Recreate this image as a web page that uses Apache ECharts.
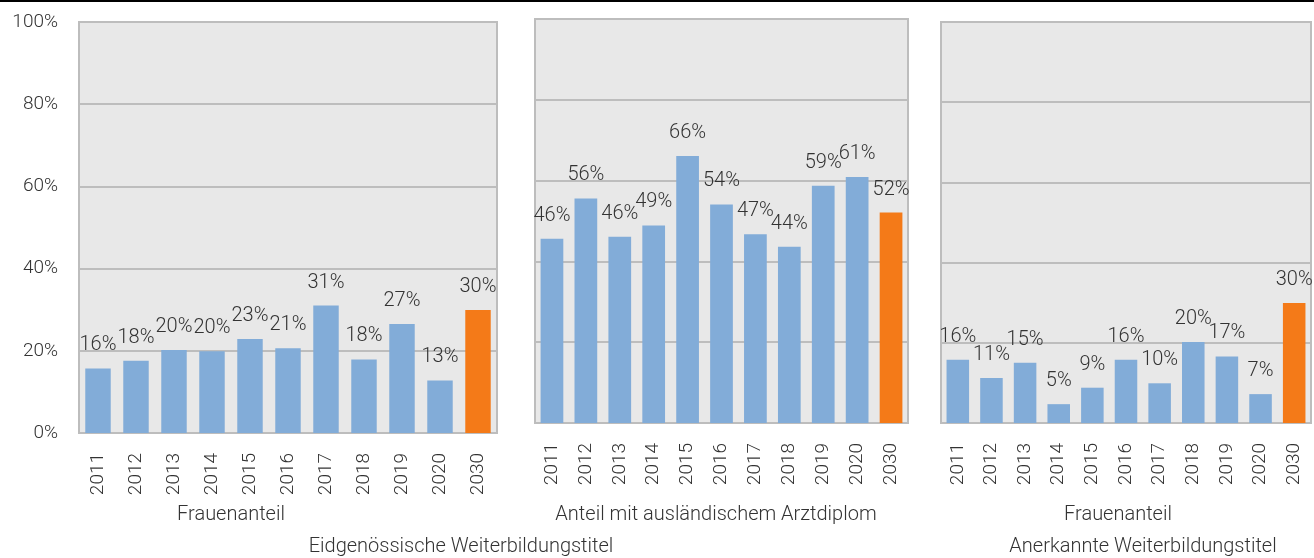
<!DOCTYPE html>
<html>
<head>
<meta charset="utf-8">
<script src="https://cdn.jsdelivr.net/npm/echarts@6/dist/echarts.min.js"></script>
<style>
  html, body { margin: 0; padding: 0; background: #ffffff; }
  #chart { width: 1314px; height: 558px; }
</style>
</head>
<body>
<div id="chart"></div>
<script>
// Years shown on every panel
const years = ['2011', '2012', '2013', '2014', '2015', '2016', '2017', '2018', '2019', '2020', '2030'];

// Eidgenössische Weiterbildungstitel – Frauenanteil (%)
const eidgFrauen = [15.7, 17.6, 20.2, 19.9, 22.9, 20.6, 31.0, 17.9, 26.5, 12.8, 29.9];
// Eidgenössische Weiterbildungstitel – Anteil mit ausländischem Arztdiplom (%)
const eidgAusland = [45.6, 55.6, 46.1, 48.9, 66.1, 54.1, 46.7, 43.6, 58.7, 60.9, 52.1];
// Anerkannte Weiterbildungstitel – Frauenanteil (%)
const anerkFrauen = [15.8, 11.2, 15.0, 4.7, 8.8, 15.8, 9.9, 20.2, 16.6, 7.2, 29.9];

// Value-axis ticks
const yTicks = [0, 20, 40, 60, 80, 100];

const panelTitles = ['Frauenanteil', 'Anteil mit ausländischem Arztdiplom', 'Frauenanteil'];
const groupTitles = ['Eidgenössische Weiterbildungstitel', 'Anerkannte Weiterbildungstitel'];

const BLUE = '#82acd8';
const ORANGE = '#f47a18';
const TEXT = '#333333';
const FONT = 'Roboto';
const FONT_SIZE = 20;
const projectionYear = '2030';

const chart = echarts.init(document.getElementById('chart'), null, { renderer: 'canvas' });

const grids = [
  { left: 79, top: 22, width: 418, height: 411 },
  { left: 535, top: 19, width: 373, height: 404 },
  { left: 941, top: 22, width: 370, height: 401 }
].map(g => Object.assign({
  show: true,
  backgroundColor: '#e8e8e8',
  borderColor: '#bdbdbd',
  borderWidth: 2,
  containLabel: false
}, g));

const xAxes = grids.map((g, i) => ({
  type: 'category',
  gridIndex: i,
  data: years,
  axisLine: { show: false },
  axisTick: { show: false },
  axisLabel: {
    rotate: 90,
    margin: 20,
    fontFamily: FONT,
    fontWeight: 300,
    fontSize: 19,
    color: TEXT
  }
}));

const yAxes = grids.map((g, i) => ({
  type: 'value',
  gridIndex: i,
  min: yTicks[0],
  max: yTicks[yTicks.length - 1],
  interval: yTicks[1] - yTicks[0],
  axisLine: { show: false },
  axisTick: { show: false },
  splitLine: { show: true, lineStyle: { color: '#bdbdbd', width: 2 } },
  axisLabel: {
    show: i === 0,
    margin: 21,
    fontFamily: FONT,
    fontWeight: 300,
    fontSize: 19,
    color: TEXT,
    formatter: v => v + '%'
  }
}));

function barSeries(values, idx) {
  return {
    type: 'bar',
    xAxisIndex: idx,
    yAxisIndex: idx,
    barCategoryGap: '33%',
    data: values.map((v, k) => ({
      value: v,
      itemStyle: { color: years[k] === projectionYear ? ORANGE : BLUE }
    })),
    label: {
      show: true,
      position: 'top',
      distance: 13,
      fontFamily: FONT,
      fontWeight: 300,
      fontSize: FONT_SIZE,
      color: TEXT,
      formatter: p => Math.round(p.value) + '%'
    },
    silent: true
  };
}

function caption(text, x, y) {
  return {
    type: 'text',
    x: x,
    y: y,
    style: {
      text: text,
      fontFamily: FONT,
      fontWeight: 300,
      fontSize: FONT_SIZE,
      fill: TEXT,
      textAlign: 'center',
      textVerticalAlign: 'middle'
    }
  };
}

chart.setOption({
  animation: false,
  grid: grids,
  xAxis: xAxes,
  yAxis: yAxes,
  series: [
    barSeries(eidgFrauen, 0),
    barSeries(eidgAusland, 1),
    barSeries(anerkFrauen, 2)
  ],
  graphic: [
    { type: 'rect', shape: { x: 0, y: 0, width: 1314, height: 2 }, style: { fill: '#000000' } },
    caption(panelTitles[0], 231, 515),
    caption(panelTitles[1], 716, 515),
    caption(panelTitles[2], 1118, 515),
    caption(groupTitles[0], 461, 547),
    caption(groupTitles[1], 1143, 547)
  ]
});
</script>
</body>
</html>
